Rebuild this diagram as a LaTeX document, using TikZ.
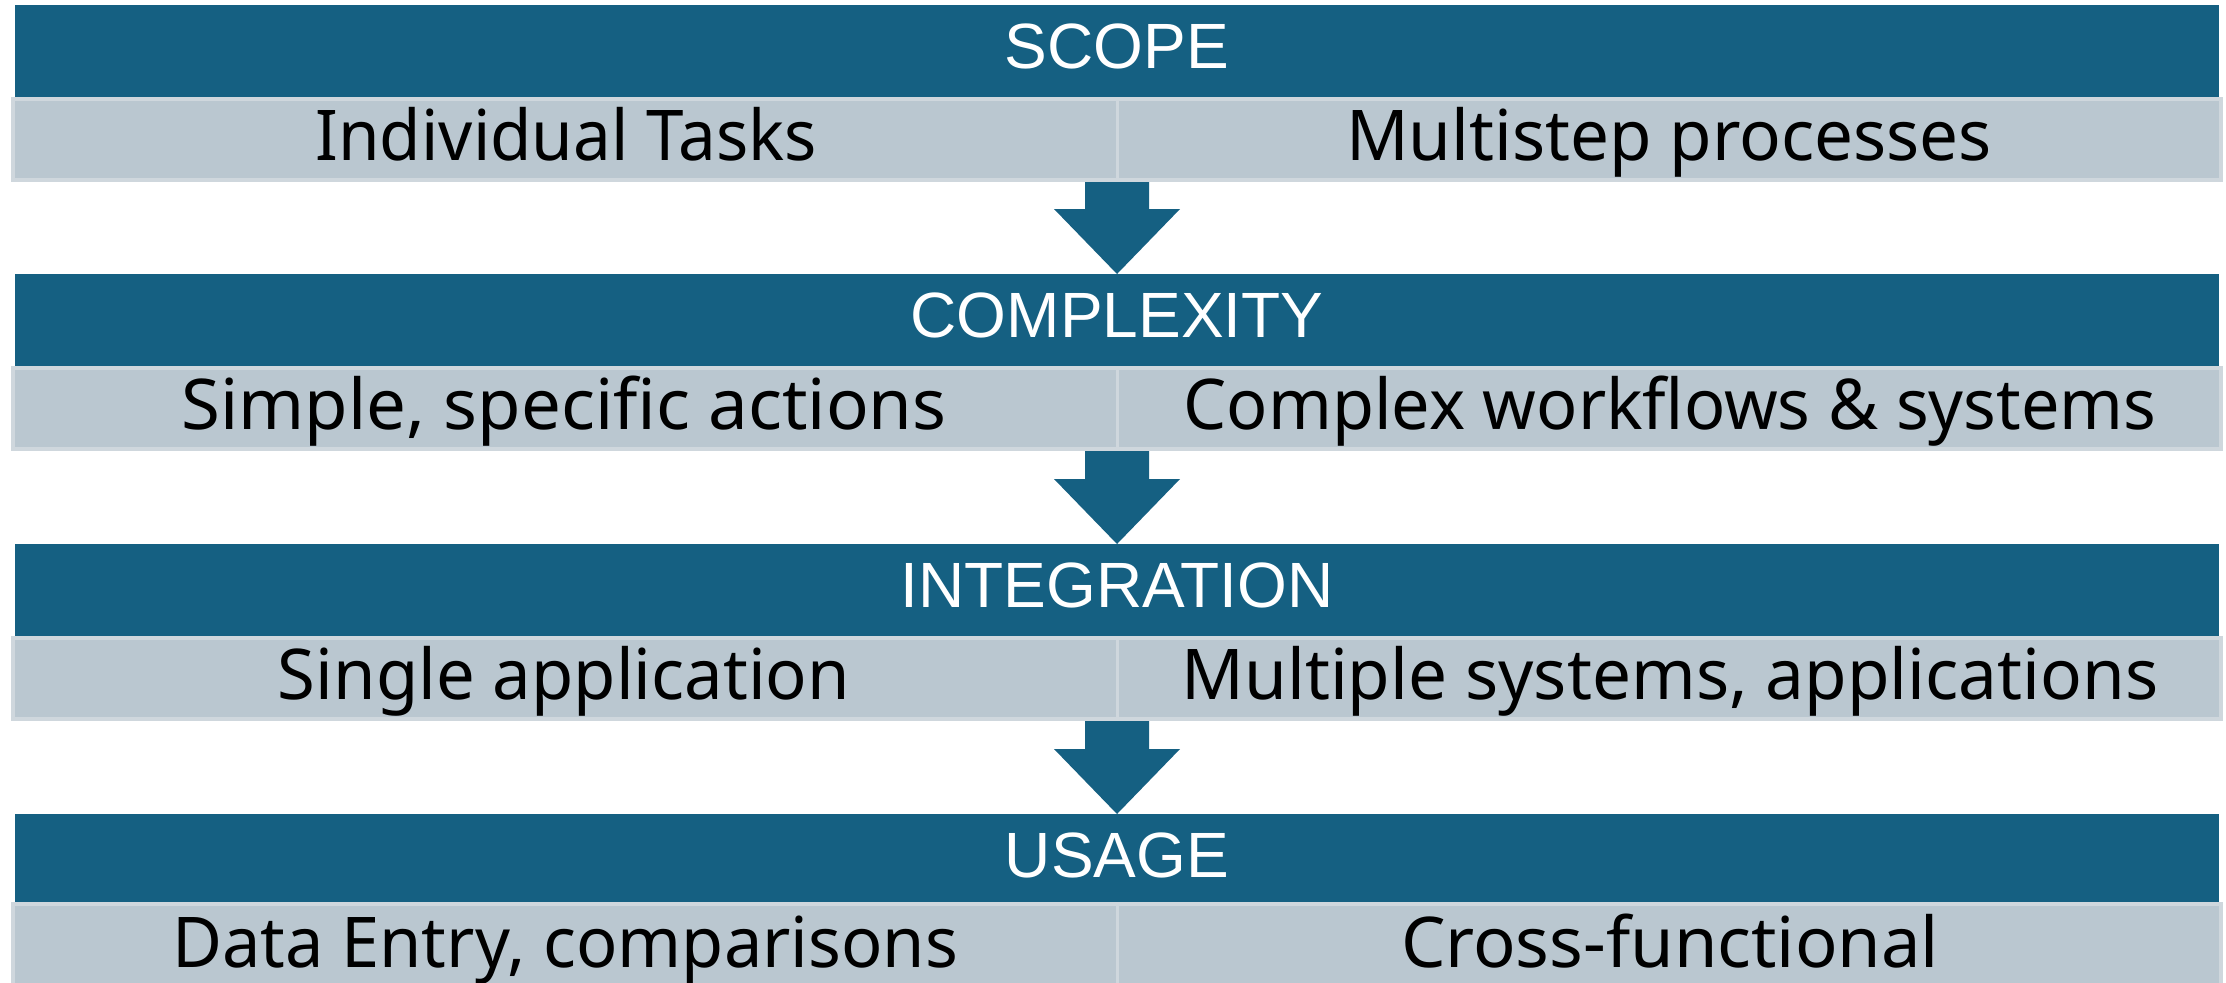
\documentclass[tikz,border=0pt]{standalone}
\usepackage{fontspec}
\usepackage{graphicx}
\setmainfont{Noto Sans}
\newfontfamily\titlefont{Liberation Sans}
\usetikzlibrary{calc}
\definecolor{bandblue}{HTML}{156082}
\definecolor{rowgrey}{HTML}{BAC7D0}
\definecolor{rowedge}{HTML}{CFD7DD}
\newcommand{\subtext}[2]{\resizebox{#1}{\height}{\fontsize{35pt}{40pt}\selectfont #2}}
\begin{document}
\begin{tikzpicture}[x=0.5pt,y=-0.5pt,
  band/.style={fill=bandblue, draw=none, minimum width=1102pt, minimum height=46pt, inner sep=0pt, outer sep=0pt},
  lastband/.style={band, minimum height=44pt},
  rowbox/.style={fill=rowgrey, draw=rowedge, line width=2pt, minimum width=1104pt, minimum height=40.5pt, inner sep=0pt, outer sep=0pt},
  divider/.style={draw=rowedge, line width=1.5pt},
  title/.style={anchor=base, text=white, inner sep=0pt, font=\titlefont\fontsize{32pt}{38pt}\selectfont},
  cell/.style={anchor=base, text=black, inner sep=0pt},
  arrowfill/.style={fill=bandblue, draw=none}]
\useasboundingbox (0,0) rectangle (2226,982);
\fill[white] (0,0) rectangle (2226,982);

% Row 1
\node[band] (B1) at (1117,51) {};
\node[rowbox] (L1) at (1117,139.5) {};
\draw[divider] (L1.north) -- (L1.south);
\node[title] (t1) at (1117,68) {SCOPE};
\node[cell] (c1a) at (566,160) {\subtext{250.5pt}{Individual Tasks}};
\node[cell] (c1b) at (1669,160) {\subtext{323pt}{Multistep processes}};

% Row 2
\node[band] (B2) at (1117,320) {};
\node[rowbox] (L2) at (1117,408.5) {};
\draw[divider] (L2.north) -- (L2.south);
\node[title] (t2) at (1117,337) {COMPLEXITY};
\node[cell] (c2a) at (564,429) {\subtext{382.5pt}{Simple, specific actions}};
\node[cell] (c2b) at (1670,429) {\subtext{486.5pt}{Complex workflows \& systems}};

% Row 3
\node[band] (B3) at (1117,590) {};
\node[rowbox] (L3) at (1117,678.5) {};
\draw[divider] (L3.north) -- (L3.south);
\node[title] (t3) at (1117,607) {INTEGRATION};
\node[cell] (c3a) at (564,699) {\subtext{286pt}{Single application}};
\node[cell] (c3b) at (1670,699) {\subtext{488.5pt}{Multiple systems, applications}};

% Row 4
\node[lastband] (B4) at (1117,858) {};
\node[rowbox] (L4) at (1117,944.5) {};
\draw[divider] (L4.north) -- (L4.south);
\node[title] (t4) at (1117,877) {USAGE};
\node[cell] (c4a) at (565,967) {\subtext{393pt}{Data Entry, comparisons}};
\node[cell] (c4b) at (1670,967) {\subtext{269pt}{Cross-functional}};

% Block arrows
\coordinate (h12) at ($(B2.north)+(0,-65)$);
\fill[arrowfill] ($(L1.south)+(-32,2)$) -- ($(h12)+(-32,0)$) -- ($(h12)+(-63,0)$) -- (B2.north) -- ($(h12)+(63,0)$) -- ($(h12)+(32,0)$) -- ($(L1.south)+(32,2)$) -- cycle;
\coordinate (h23) at ($(B3.north)+(0,-65)$);
\fill[arrowfill] ($(L2.south)+(-32,2)$) -- ($(h23)+(-32,0)$) -- ($(h23)+(-63,0)$) -- (B3.north) -- ($(h23)+(63,0)$) -- ($(h23)+(32,0)$) -- ($(L2.south)+(32,2)$) -- cycle;
\coordinate (h34) at ($(B4.north)+(0,-65)$);
\fill[arrowfill] ($(L3.south)+(-32,2)$) -- ($(h34)+(-32,0)$) -- ($(h34)+(-63,0)$) -- (B4.north) -- ($(h34)+(63,0)$) -- ($(h34)+(32,0)$) -- ($(L3.south)+(32,2)$) -- cycle;
\end{tikzpicture}
\end{document}
